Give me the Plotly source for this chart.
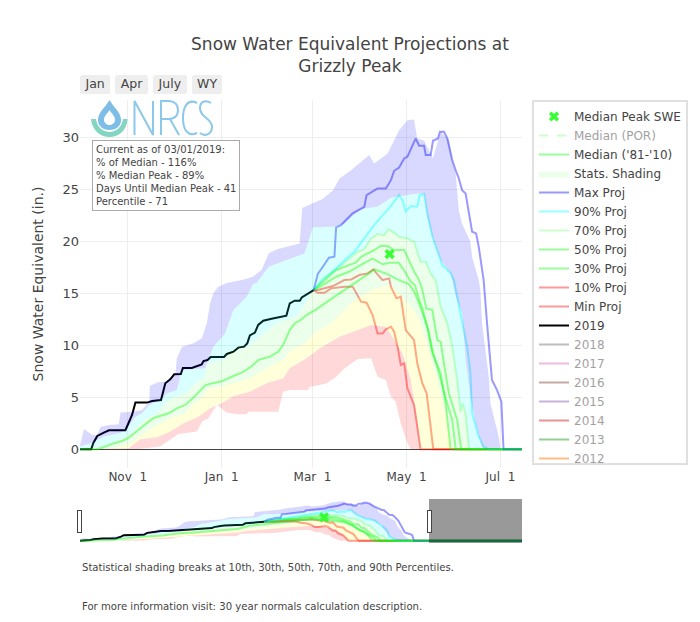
import pandas as pd
import plotly.graph_objects as go

START = pd.Timestamp("2018-10-01")

def dates(days):
    return [(START + pd.to_timedelta(d, unit="D")).strftime("%Y-%m-%d %H:%M") for d in days]

END_DAY = 364

# 2019 observed
wy2019_d = [0,7.3,8.6,11.2,15.5,18.8,29.5,31.7,33.8,36,43.5,46.8,52.6,55.4,58.6,61.2,65.5,66.8,72.6,79,80.2,82.8,84.9,93.5,95.3,99.6,102.8,106.5,108.6,110.3,113.6,115.7,119,124.4,134,136.2,139.4,142.7,144,151.7]
wy2019_v = [0,0,.58,1.28,1.6,1.83,1.83,2.5,3.3,4.49,4.49,4.65,4.74,6.35,6.73,7.21,7.24,7.82,7.82,8.17,8.49,8.59,8.88,8.88,9.17,9.39,9.78,9.87,10.19,10.96,11.22,11.96,12.37,12.56,12.85,14.04,14.29,14.29,14.6,15.32]

# Median '81-'10
median_d = [0,10.1,13.4,17.7,22,27.4,31.7,36,40.3,44.6,47.8,52.2,57.5,62.9,68.3,73.7,81.3,84.5,92,99.6,106,111.4,115.7,123.3,128.7,131.9,136.2,139.4,142.7,147,153.4,162,177,186,191.1,198.6,207.2,213.7,217,220.2,225.5,228.8,234.2,237.4,240.6,241,END_DAY]
median_v = [0,0,.1,.35,.58,.8,1.12,1.63,2.18,2.66,3.01,3.24,3.46,3.94,4.26,4.97,6.15,6.31,6.54,7.05,7.44,7.98,8.59,8.91,9.39,10.03,11.47,12.12,12.37,12.9,13.46,14.35,15.8,16.75,17.3,16.92,16.28,15.86,15.16,14.03,11.79,9.23,7.3,4.42,.09,0,0]

# Projections
max_d = [151.7,154.5,157.7,161.6,165.2,166.3,169.5,177,184.6,186.1,193.2,198.6,201.9,204,207.2,210.5,212.6,218,220.2,223.4,224.5,227.7,229.2,232.4,233.7,236.3,238.5,241.7,243.9,246,248.1,250.4,254.6,257.2,258.9,262.1,264.3,267.5,270.8,273.6,275,END_DAY]
max_v = [15.32,16.9,17.56,18.43,18.52,21.34,21.57,22.69,23.33,24.45,25.09,25.09,25.89,26.79,27.11,27.98,28.14,29.9,29.2,29.2,28.3,28.3,29.68,29.9,30.54,30.54,29.9,27.82,26.85,26.05,24.93,24.61,20.93,20.77,19.48,16.28,12.11,6.66,5.7,4.58,0,0]
p90_d = [151.7,157.7,165.2,169.5,178.1,184.6,191,196.5,200.7,205,207.2,209.4,211.5,214.8,219,220.6,223.4,225.5,228.8,235.2,240.7,242.8,246,249.2,251.4,253.5,254.6,258.9,262.1,265.4,END_DAY]
p90_v = [15.32,16.28,17.24,17.88,19,20.28,21.57,22.53,23.17,24.04,24.45,23.97,22.9,23.4,23.33,24.45,24.55,22.69,20.44,17.72,16.92,16.28,13.72,11.47,9.87,7.3,3.46,1.21,.25,0,0]
p70_d = [151.7,157.7,168.5,178.1,180.3,184.6,188.9,193.2,197.5,200.1,202.9,207.2,212.6,216.9,221.2,224.5,227.7,230.9,234.2,238.5,241.7,244.9,247.1,248.2,250.4,252.5,253,END_DAY]
p70_v = [15.32,16.44,17.56,18.68,19,19.23,20.28,20.7,20.6,21.15,20.93,20.44,20.28,19.97,18.04,18.04,16.92,16.28,13.71,12.11,9.87,6.66,3.62,4.42,3.46,.09,0,0]
p50_d = [151.7,155.5,166.3,179.2,182.5,191.1,195.4,199.7,204,210.5,217,220.2,222.3,224.9,228.8,232,234.2,236.3,239.5,244.9,247,247.5,END_DAY]
p50_v = [15.32,15.8,17.24,17.98,18.52,19.17,19.58,19.55,19.17,19.17,17.08,16.28,15.32,13.55,13.39,10.51,10.35,8.27,5.38,2.82,.09,0,0]
p30_d = [151.7,155.5,166.3,175,180.3,190,196.5,200.7,207,210.5,214.8,217.5,220.2,222.3,226.6,228.8,233.1,237.4,241.7,243.9,244.5,END_DAY]
p30_v = [15.32,15.6,16.6,17.1,17.57,18.35,17.8,17.95,17.95,17.2,16.12,15.8,14.35,13.55,11.15,9.55,7.3,4.9,2.82,.09,0,0]
p10_d = [151.7,154.5,164.2,171.7,176,181.4,186.8,190.5,192.6,196.5,200.7,201.9,205.5,208.3,211.5,216.9,219,222.3,225.1,229.4,END_DAY]
p10_v = [15.32,15.32,15.7,16.28,16.34,16.76,16.92,17.3,16.92,16.28,16.44,15.64,14.52,14.68,11.47,10.51,8.27,6.34,5.38,0,0]
min_d = [151.7,154.5,158.8,163,171.7,177.1,182.5,186.1,190,193.2,196.5,198.6,201.9,204,206.2,208.3,210.5,212.6,216.9,221.2,END_DAY]
min_v = [15.32,15.06,15.06,15.48,15.64,15.64,14.2,14.1,12.91,11.15,11.15,11.54,11.79,11.31,9.87,8.11,8.27,5.86,4.26,0,0]

# Statistical shading envelopes
band_min_d = [0,37,52,56.5,64,75.9,79.1,83.4,88.8,95.3,101.7,108.2,109.3,128.7,131.9,136.2,148,149,160,166.3,171.7,180.3,189,193.2,198.6,201.9,205,208.2,212.6,214.8,END_DAY]
band_min_v = [0,0,.26,.74,1.47,1.7,2.66,2.98,4.26,3.53,3.37,3.37,3.62,3.62,5.54,5.7,5.7,6,6.34,6.98,7.78,8.68,8.75,6.98,6.66,5.06,4.58,2.5,.57,0,0]
band_10_d = [0,31.7,39.2,50,58.6,67.2,76.9,84.5,92,99.6,110.3,121.1,131.9,136.2,147,155.7,168.5,180.3,189,198.6,205,209.4,214.8,219,221.2,END_DAY]
band_10_v = [0,.1,.96,1.15,1.7,2.5,3.14,3.94,4.42,5.13,5.54,6.35,6.83,7.79,8.75,9.71,10.83,11.47,11.95,11.79,10.19,9.23,6.66,2.82,0,0]
band_30_d = [0,22,32.8,38.1,44.6,51,58.6,68.3,72.6,79.1,83.4,92,99.6,110.3,121.1,131.9,136.2,144.8,153.4,164.2,177.1,189,200.8,207.2,219,223.4,230.9,237.4,241.7,243.9,END_DAY]
band_30_v = [0,.1,.58,1.22,1.86,2.34,2.98,3.46,4.26,4.9,5.87,6.03,6.35,6.83,7.79,8.59,9.48,10.03,11.31,12.27,14.2,15.32,15.8,15,12.91,11.15,7.3,3.46,.25,0,0]
band_70_d = [0,13.4,23,31.7,36,43.5,50,55.4,60.8,68.3,74.8,81.3,82.3,93.1,96.3,110.3,116.8,127.6,140.5,151.7,157.7,168.5,178.1,180.3,184.6,188.9,193.2,197.5,200.1,202.9,207.2,212.6,216.9,221.2,224.5,227.7,230.9,234.2,238.5,241.7,244.9,247.1,248.2,250.4,252.5,253,END_DAY]
band_70_v = [0,.26,.74,1.38,2.02,2.98,3.46,4.42,5.06,5.38,6.35,6.99,8.2,8.59,9.23,10.03,10.83,12.12,12.76,15.32,16.44,17.56,18.68,19,19.23,20.28,20.7,20.6,21.15,20.93,20.44,20.28,19.97,18.04,18.04,16.92,16.28,13.71,12.11,9.87,6.66,3.62,4.42,3.46,.09,0,0]
band_90_d = [0,6.9,15.5,25.2,29.5,36,40.3,45,52.2,56.5,62.9,66.2,81.3,86.6,94.2,99.6,108.2,112.5,114.6,122.6,134,142.6,145.8,151.2,165.2,171.7,180.3,184.6,193.2,201.9,219,223.4,225.5,228.8,234.1,240.7,244,248.1,250.4,253.5,256.7,261,263.3,END_DAY]
band_90_v = [.26,.58,1.22,1.54,1.79,3.14,3.46,4.26,4.74,5.38,5.7,7.63,7.79,9.87,11.15,13.4,14.68,15.9,16,17.56,18.2,18.67,18.84,21.35,21.4,21.73,22.85,23.17,23.33,24.2,24.6,24.55,22.4,20.44,18.2,16.9,14.67,13.07,8.59,5.06,2.5,.25,0,0]
band_max_d = [0,2.6,8,11.2,13.4,18.8,25.2,26.3,33.8,40.3,45,45.3,51,56.5,61.9,62.9,66.2,73.7,79.1,82.3,84.5,86.6,89.6,95.2,105.8,112.2,117.9,122.6,128.4,134,136.2,142.6,144.3,157.7,164.2,168.5,176,183.5,187.8,191,199.7,207.2,212.6,216.9,219,223.4,226.6,229.2,234.1,239.5,241.7,243.9,246,248.1,253.5,254.6,258.9,260,261.1,265.4,266.5,271.9,273,END_DAY]
band_max_v = [.42,1.96,1.38,1.38,2.18,2.34,2.4,3.53,3.62,3.78,4.58,6.09,6.47,6.5,7.15,8.75,9.87,10.19,10.67,12.12,14.04,15,15.6,16,16.3,16.6,17.24,18.87,19.26,19.5,19.6,19.8,23.2,24.1,24.9,26.05,26.85,27.8,28.3,27.5,28.46,30.7,31.66,31.73,29.9,29.7,28.8,28,30.54,29.74,27.82,26.53,23,21.7,19.97,18.5,16.28,15.3,12.1,7,4.42,1.2,0,0]

# Median peak marker
peak_d = [201]
peak_v = [18.78]

# Legend-only water years (placeholder single point, never drawn)
hidden_years = ["2011", "2012", "2013", "2014", "2015", "2016", "2017", "2018"]
hidden_colors = ["#1f77b4", "#ff7f0e", "#2ca02c", "#d62728", "#9467bd", "#8c564b", "#e377c2", "#7f7f7f"]

FONT = "DejaVu Sans"
TXT = "#444444"

# The page has an 8 px body margin, so picture coordinates are graph coordinates + 8.
W, H = 692, 606
L, T, B = 72, 92, 71
PW, PH = 442, 368
R = W - L - PW

def px(x):
    return (x - 80) / PW

def py(y):
    return (468 - y) / PH

fig = go.Figure()

for yr, col in zip(hidden_years, hidden_colors):
    fig.add_trace(go.Scatter(x=dates([0]), y=[0], mode="lines", name=yr, visible="legendonly",
                             line=dict(color=col, width=2)))

fig.add_trace(go.Scatter(x=dates(wy2019_d), y=wy2019_v, mode="lines", name="2019",
                         line=dict(color="black", width=2)))

for name, d, v, col in [
    ("Min Proj", min_d, min_v, "rgba(255,0,0,.4)"),
    ("10% Proj", p10_d, p10_v, "rgba(255,0,0,.4)"),
    ("30% Proj", p30_d, p30_v, "rgba(0,255,0,.4)"),
    ("50% Proj", p50_d, p50_v, "rgba(0,255,0,.4)"),
    ("70% Proj", p70_d, p70_v, "rgba(0,255,0,.2)"),
    ("90% Proj", p90_d, p90_v, "rgba(0,255,255,.4)"),
    ("Max Proj", max_d, max_v, "rgba(0,0,255,.4)"),
]:
    fig.add_trace(go.Scatter(x=dates(d), y=v, mode="lines", name=name, line=dict(color=col, width=2)))

fig.add_trace(go.Scatter(x=dates(band_min_d), y=band_min_v, mode="lines", showlegend=False,
                         legendgroup="shade", line=dict(width=0, color="rgba(0,0,0,0)"), hoverinfo="skip"))
for name, d, v, col, show in [
    ("10th", band_10_d, band_10_v, "rgba(255,0,0,.15)", False),
    ("30th", band_30_d, band_30_v, "rgba(255,255,0,.15)", False),
    ("Stats. Shading", band_70_d, band_70_v, "rgba(0,255,0,.08)", True),
    ("90th", band_90_d, band_90_v, "rgba(0,255,255,.15)", False),
    ("Max", band_max_d, band_max_v, "rgba(0,0,255,.15)", False),
]:
    fig.add_trace(go.Scatter(x=dates(d), y=v, mode="lines", name=name, showlegend=show, legendgroup="shade",
                             fill="tonexty", fillcolor=col, line=dict(width=0, color="rgba(0,0,0,0)"), hoverinfo="skip"))

fig.add_trace(go.Scatter(x=dates(median_d), y=median_v, mode="lines", name="Median ('81-'10)",
                         line=dict(color="rgba(0,255,0,.4)", width=2)))
fig.add_trace(go.Scatter(x=dates([0]), y=[0], mode="lines", name="Median (POR)", visible="legendonly",
                         line=dict(color="rgba(0,255,0,.4)", width=2, dash="dash")))
fig.add_trace(go.Scatter(x=dates(peak_d), y=peak_v, mode="markers", name="Median Peak SWE",
                         marker=dict(symbol="x", color="#33ff33", size=9)))

INFO = ("Current as of 03/01/2019:<br>% of Median - 116%<br>% Median Peak - 89%<br>"
        "Days Until Median Peak - 41<br>Percentile - 71")

annotations = [
    dict(text=INFO, xref="paper", yref="paper", x=px(91.5), y=py(140), xanchor="left", yanchor="top",
         align="left", showarrow=False, bgcolor="white", bordercolor="#aaaaaa", borderwidth=1, borderpad=3,
         font=dict(family=FONT, size=10, color=TXT)),
    dict(text="Statistical shading breaks at 10th, 30th, 50th, 70th, and 90th Percentiles.",
         xref="paper", yref="paper", x=px(80), y=py(567), xanchor="left", yanchor="middle", showarrow=False,
         font=dict(family=FONT, size=10.1, color=TXT)),
    dict(text="For more information visit: 30 year normals calculation description.",
         xref="paper", yref="paper", x=px(80), y=py(606), xanchor="left", yanchor="middle", showarrow=False,
         font=dict(family=FONT, size=10.1, color=TXT)),
]

def path(*parts):
    out = []
    for p in parts:
        if isinstance(p, str):
            out.append(p)
        else:
            out.append(f"{px(p[0]):.5f},{py(p[1]):.5f}")
    return " ".join(out)

BLUE = "#8cc8ea"
shapes = []
def logo(*parts, fill="rgba(0,0,0,0)", stroke=BLUE, width=2):
    shapes.append(dict(type="path", xref="paper", yref="paper", path=path(*parts), fillcolor=fill,
                       line=dict(color=stroke, width=width), layer="above"))

# droplet (outer outline, then white inner drop)
logo("M", (109.5, 100), "C", (105, 108), (98, 112), (98, 120), "C", (98, 127), (104, 130), (109.5, 130),
     "C", (115, 130), (121, 127), (121, 120), "C", (121, 112), (114, 108), (109.5, 100), "Z",
     fill="#7dbde6", stroke="rgba(0,0,0,0)", width=0)
logo("M", (109.5, 110), "C", (107, 114), (104, 116), (104, 120), "C", (104, 123), (107, 125), (109.5, 125),
     "C", (112, 125), (115, 123), (115, 120), "C", (115, 116), (112, 114), (109.5, 110), "Z",
     fill="white", stroke="rgba(0,0,0,0)", width=0)
# crescent
logo("M", (91, 119), "L", (96, 119), "C", (97, 127), (103, 132), (109.5, 132), "C", (116, 132), (122, 127), (123, 119),
     "L", (127.5, 119), "C", (127, 130), (119, 137), (109.5, 137), "C", (100, 137), (92, 130), (91, 119), "Z",
     fill="#85d5c3", stroke="rgba(0,0,0,0)", width=0)
# N
logo("M", (134.5, 135), "L", (134.5, 101), "L", (153, 135), "L", (153, 101))
# R
logo("M", (161, 135), "L", (161, 101), "L", (168, 101), "C", (176, 101), (178, 106), (178, 110),
     "C", (178, 116), (174, 119), (168, 119), "L", (161, 119), "M", (170, 119), "L", (179, 135))
# C
logo("M", (197, 103), "C", (187, 98), (183, 108), (183, 118), "C", (183, 130), (188, 137), (197, 133))
# S
logo("M", (211, 103), "C", (205, 99), (200, 102), (200, 108), "C", (200, 118), (212, 118), (212, 127),
     "C", (212, 134), (205, 137), (200, 133))

fig.update_layout(
    width=W, height=H, autosize=False,
    margin=dict(l=L, r=R, t=T, b=B),
    font=dict(family=FONT, size=12, color=TXT),
    paper_bgcolor="white", plot_bgcolor="white",
    title=dict(text="Snow Water Equivalent Projections at<br>Grizzly Peak", x=342 / W, xref="container", xanchor="center",
               y=0.9307, yref="container", yanchor="top", font=dict(family=FONT, size=17, color=TXT)),
    legend=dict(traceorder="reversed", x=px(532), y=1, xanchor="left", yanchor="top", maxheight=365,
                bordercolor="#e0e0e0", borderwidth=2, bgcolor="white", font=dict(family=FONT, size=12, color=TXT)),
    annotations=annotations,
    shapes=shapes,
    showlegend=True,
    xaxis=dict(
        type="date",
        range=[START.strftime("%Y-%m-%d"), "2019-07-15"],
        tick0="2018-11-01", dtick="M2", tickformat="%b %e",
        showgrid=True, gridcolor="#eeeeee", zeroline=False, showline=False, ticks="",
        tickfont=dict(family=FONT, size=12, color=TXT),
        rangeselector=dict(
            x=0, xanchor="left", y=1.014, yanchor="bottom",
            bgcolor="#eeeeee", font=dict(family=FONT, size=12.5, color=TXT),
            buttons=[
                dict(label="Jan", count=1, step="month", stepmode="backward"),
                dict(label="Apr", count=3, step="month", stepmode="backward"),
                dict(label="July", count=6, step="month", stepmode="backward"),
                dict(label="WY", step="all"),
            ]),
        rangeslider=dict(visible=True, thickness=0.1, range=["2018-10-01", "2019-09-30"],
                         bgcolor="white", borderwidth=0),
    ),
    yaxis=dict(
        range=[-1.8, 33.6], tick0=0, dtick=5, showgrid=True, gridcolor="#eeeeee",
        zeroline=True, zerolinecolor="#444444", zerolinewidth=1, showline=False,
        title=dict(text="Snow Water Equivalent (in.)", font=dict(family=FONT, size=14, color=TXT)),
        tickfont=dict(family=FONT, size=13, color=TXT),
    ),
)

# The reference legend has no scrollbar thumb and a narrower frame: adjust them once the page has drawn.
POST = ("var gd=document.getElementById('{plot_id}');"
        "gd.querySelectorAll('.legend .scrollbar').forEach(function(e){e.style.display='none';});"
        "gd.querySelectorAll('.legend rect.bg').forEach(function(e){e.setAttribute('width','154');});")

fig.write_html("out.html", config={"displayModeBar": False}, post_script=POST)
